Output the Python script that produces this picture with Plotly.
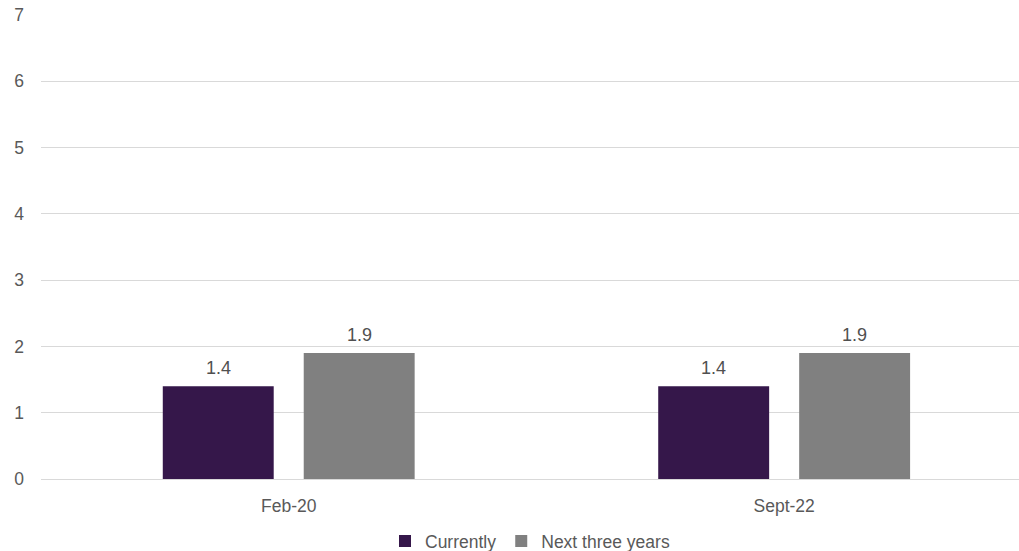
import plotly.graph_objects as go

categories = ["Feb-20", "Sept-22"]
currently = [1.4, 1.4]
next_three_years = [1.9, 1.9]
y_ticks = [0, 1, 2, 3, 4, 5, 6, 7]

series = [
    ("Currently", currently, "#35174A"),
    ("Next three years", next_three_years, "#808080"),
]

fig = go.Figure()
for name, values, color in series:
    fig.add_trace(go.Bar(
        name=name, x=categories, y=values,
        marker=dict(color=color, line=dict(width=0)),
    ))

# value labels above each bar (slot centre offset within a group)
bargap, groupgap = 0.431, 0.213
slot = (1 - bargap) / len(series)
for k, (name, values, color) in enumerate(series):
    off = (k - (len(series) - 1) / 2) * slot
    for i, v in enumerate(values):
        fig.add_annotation(
            x=i + off, y=v, text=f"{v:.1f}", showarrow=False,
            yanchor="bottom", yshift=6,
            font=dict(size=18, color="#505050", family="Arial"),
        )

fig.update_layout(
    width=1019, height=551,
    margin=dict(l=41, r=0, t=15, b=72, autoexpand=False),
    paper_bgcolor="white", plot_bgcolor="white",
    barmode="group", bargap=bargap, bargroupgap=groupgap,
    font=dict(family="Arial", size=17.5, color="#595959"),
    showlegend=True,
    legend=dict(
        orientation="h", x=0.5, xanchor="center",
        y=-0.134, yanchor="middle",
        font=dict(size=17.5, color="#595959"), itemwidth=30,
        traceorder="normal",
    ),
    xaxis=dict(
        type="category", range=[-0.5, 1.474], showgrid=False,
        showline=False, ticks="", ticklabelstandoff=14,
        tickfont=dict(size=17.5, color="#595959"),
    ),
    yaxis=dict(
        range=[0, 7], tickvals=y_ticks, showgrid=True, gridcolor="#D9D9D9",
        gridwidth=1, zeroline=True, zerolinecolor="#D9D9D9", zerolinewidth=1,
        showline=False, ticks="", ticklabelstandoff=16,
        tickfont=dict(size=17.5, color="#595959"),
    ),
)

fig.write_html("out.html")
